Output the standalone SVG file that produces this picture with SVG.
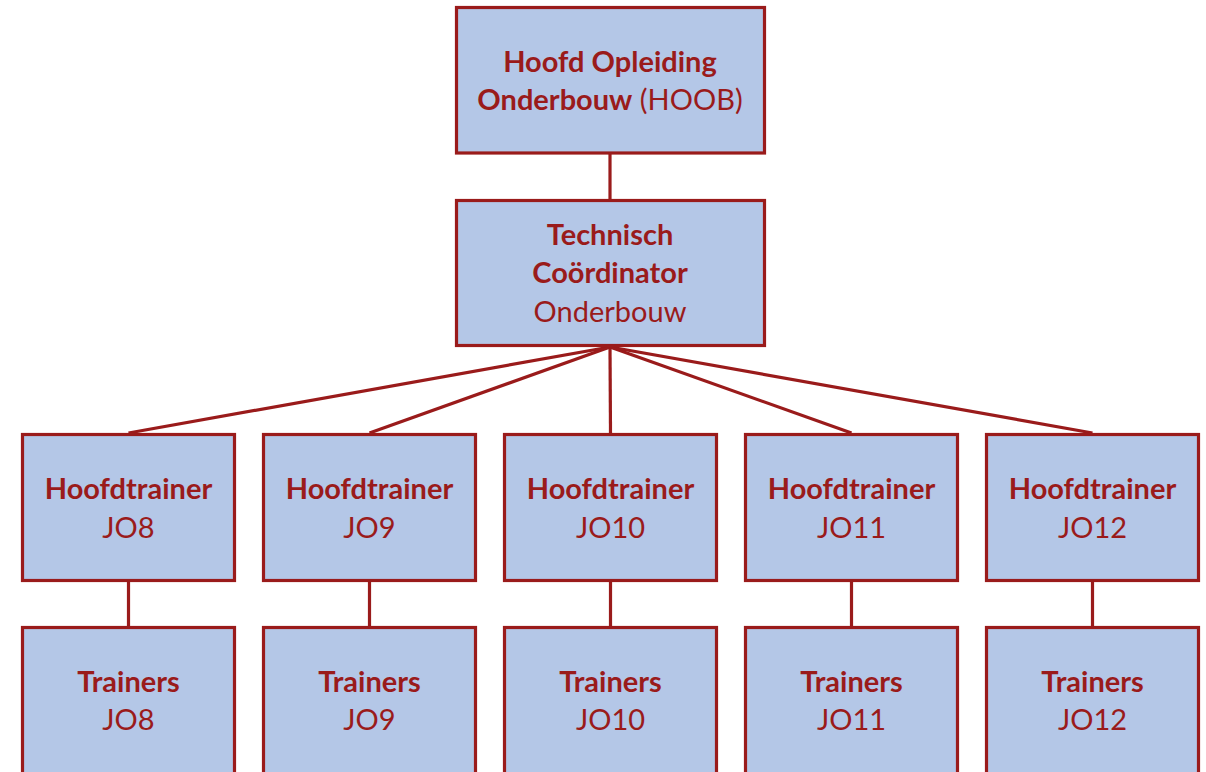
<svg xmlns="http://www.w3.org/2000/svg" width="1206" height="772" viewBox="0 0 1206 772">
<style>
.box{fill:#B4C7E7;stroke:#9A1B1B;stroke-width:3.2}
.t{font-family:Lato,"Open Sans",sans-serif;font-size:29px;fill:#9A1B1B;text-anchor:middle}
.b{font-weight:bold}
.c{stroke:#9A1B1B;stroke-width:3.2;fill:none}
</style>
<rect width="1206" height="772" fill="#fff"/>
<g id="connectors">
<line class="c" x1="610" y1="154" x2="610" y2="200"/>
<line class="c" x1="610" y1="347" x2="128.5" y2="433"/>
<line class="c" x1="610" y1="347" x2="369.5" y2="433"/>
<line class="c" x1="610" y1="347" x2="610.5" y2="433"/>
<line class="c" x1="610" y1="347" x2="851.5" y2="433"/>
<line class="c" x1="610" y1="347" x2="1092.5" y2="433"/>
<line class="c" x1="128.5" y1="582" x2="128.5" y2="626"/>
<line class="c" x1="369.5" y1="582" x2="369.5" y2="626"/>
<line class="c" x1="610.5" y1="582" x2="610.5" y2="626"/>
<line class="c" x1="851.5" y1="582" x2="851.5" y2="626"/>
<line class="c" x1="1092.5" y1="582" x2="1092.5" y2="626"/>
</g>
<g id="hoob">
<rect class="box" x="456.5" y="7.5" width="308" height="145.5"/>
<text class="t b" x="610" y="72">Hoofd Opleiding</text>
<text class="t" x="610" y="110"><tspan class="b">Onderbouw</tspan> (HOOB)</text>
</g>
<g id="tc">
<rect class="box" x="456.5" y="200.5" width="308" height="145"/>
<text class="t b" x="610" y="245">Technisch</text>
<text class="t b" x="610" y="283">Coördinator</text>
<text class="t" x="610" y="322">Onderbouw</text>
</g>
<g id="ht-jo8"><rect class="box" x="22.5" y="434.5" width="212" height="146"/><text class="t b" x="128.5" y="499">Hoofdtrainer</text><text class="t" x="128.5" y="538">JO8</text></g>
<g id="ht-jo9"><rect class="box" x="263.5" y="434.5" width="212" height="146"/><text class="t b" x="369.5" y="499">Hoofdtrainer</text><text class="t" x="369.5" y="538">JO9</text></g>
<g id="ht-jo10"><rect class="box" x="504.5" y="434.5" width="212" height="146"/><text class="t b" x="610.5" y="499">Hoofdtrainer</text><text class="t" x="610.5" y="538">JO10</text></g>
<g id="ht-jo11"><rect class="box" x="745.5" y="434.5" width="212" height="146"/><text class="t b" x="851.5" y="499">Hoofdtrainer</text><text class="t" x="851.5" y="538">JO11</text></g>
<g id="ht-jo12"><rect class="box" x="986.5" y="434.5" width="212" height="146"/><text class="t b" x="1092.5" y="499">Hoofdtrainer</text><text class="t" x="1092.5" y="538">JO12</text></g>
<g id="tr-jo8"><rect class="box" x="22.5" y="627.5" width="212" height="160"/><text class="t b" x="128.5" y="692">Trainers</text><text class="t" x="128.5" y="730">JO8</text></g>
<g id="tr-jo9"><rect class="box" x="263.5" y="627.5" width="212" height="160"/><text class="t b" x="369.5" y="692">Trainers</text><text class="t" x="369.5" y="730">JO9</text></g>
<g id="tr-jo10"><rect class="box" x="504.5" y="627.5" width="212" height="160"/><text class="t b" x="610.5" y="692">Trainers</text><text class="t" x="610.5" y="730">JO10</text></g>
<g id="tr-jo11"><rect class="box" x="745.5" y="627.5" width="212" height="160"/><text class="t b" x="851.5" y="692">Trainers</text><text class="t" x="851.5" y="730">JO11</text></g>
<g id="tr-jo12"><rect class="box" x="986.5" y="627.5" width="212" height="160"/><text class="t b" x="1092.5" y="692">Trainers</text><text class="t" x="1092.5" y="730">JO12</text></g>
</svg>
